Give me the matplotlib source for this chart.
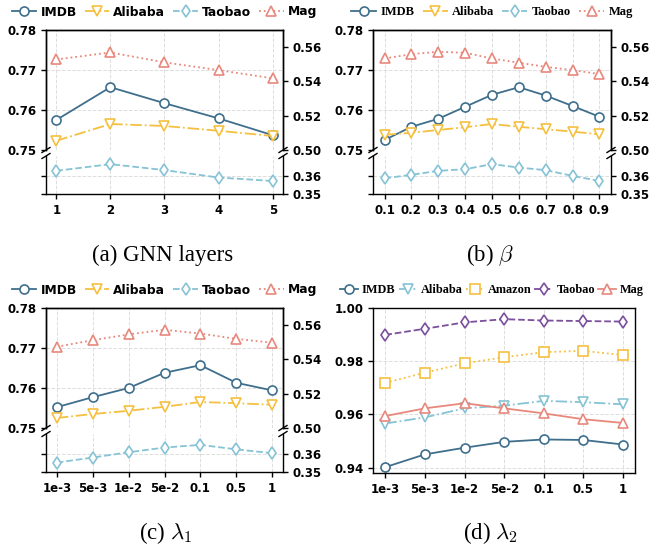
import matplotlib
matplotlib.use('Agg')
import matplotlib.pyplot as plt
from matplotlib.ticker import FormatStrFormatter

plt.rcParams['font.family'] = ['DejaVu Sans']
plt.rcParams['font.weight'] = 'bold'
plt.rcParams['mathtext.fontset'] = 'cm'

C_IMDB = '#3f6f8c'
C_ALI = '#f5c040'
C_TAO = '#86c3d5'
C_MAG = '#e8887c'
C_PUR = '#7b4f9d'

# (a) GNN layers
a_x = [1, 2, 3, 4, 5]
a_imdb = [0.7575, 0.7657, 0.7617, 0.7579, 0.7537]
a_ali = [0.7523, 0.7565, 0.7560, 0.7548, 0.7535]
a_tao = [0.3628, 0.3665, 0.3632, 0.3591, 0.3572]
a_mag = [0.5528, 0.5569, 0.5511, 0.5466, 0.5418]

# (b) beta
b_x = [0.1, 0.2, 0.3, 0.4, 0.5, 0.6, 0.7, 0.8, 0.9]
b_imdb = [0.7525, 0.7558, 0.7578, 0.7608, 0.7638, 0.7657, 0.7636, 0.7610, 0.7583]
b_ali = [0.7538, 0.7543, 0.7550, 0.7557, 0.7565, 0.7558, 0.7552, 0.7546, 0.7539]
b_tao = [0.3587, 0.3606, 0.3628, 0.3637, 0.3665, 0.3646, 0.3632, 0.3600, 0.3572]
b_mag = [0.5534, 0.5559, 0.5573, 0.5567, 0.5534, 0.5509, 0.5485, 0.5466, 0.5443]

# (c) lambda_1
lam_labels = ['1e-3', '5e-3', '1e-2', '5e-2', '0.1', '0.5', '1']
c_imdb = [0.7552, 0.7577, 0.7600, 0.7638, 0.7657, 0.7613, 0.7594]
c_ali = [0.7525, 0.7535, 0.7543, 0.7553, 0.7565, 0.7562, 0.7558]
c_tao = [0.3552, 0.3580, 0.3609, 0.3635, 0.3650, 0.3625, 0.3604]
c_mag = [0.5474, 0.5512, 0.5546, 0.5573, 0.5551, 0.5520, 0.5497]

# (d) lambda_2
d_imdb = [0.9402, 0.9450, 0.9475, 0.9497, 0.9506, 0.9504, 0.9487]
d_ali = [0.9566, 0.9589, 0.9623, 0.9633, 0.9651, 0.9646, 0.9638]
d_amazon = [0.9719, 0.9757, 0.9792, 0.9815, 0.9834, 0.9839, 0.9823]
d_tao = [0.9899, 0.9922, 0.9946, 0.9958, 0.9953, 0.9951, 0.9949]
d_mag = [0.9594, 0.9623, 0.9642, 0.9623, 0.9604, 0.9582, 0.9568]

W, H = 652, 548
fig = plt.figure(figsize=(W / 100, H / 100), dpi=100)

TICK = 8.5
MS = 6.5


def rect(x0, x1, y0, y1):
    # pixel box -> figure fraction
    return [x0 / W, 1 - y1 / H, (x1 - x0) / W, (y1 - y0) / H]


def style(ax):
    for s in ax.spines.values():
        s.set_linewidth(1.0)
    ax.tick_params(labelsize=TICK, length=3.5, width=1.0, direction='out')
    ax.grid(True, linestyle='--', color='#dddddd', linewidth=0.7)
    ax.set_axisbelow(True)


def mk(ax, x, y, color, marker, ls):
    ln, = ax.plot(x, y, color=color, marker=marker, ls=ls, lw=1.3,
                  markersize=MS, markerfacecolor='white', markeredgewidth=1.2)
    return ln


def broken(px, py, x, imdb, ali, tao, mag, xlim, xticks, xlabels, legsize, legfam):
    x0, x1 = px
    y0 = py
    top = fig.add_axes(rect(x0, x1, y0, y0 + 120))
    bot = fig.add_axes(rect(x0, x1, y0 + 126, y0 + 164), sharex=top)
    style(top)
    style(bot)
    top.spines['bottom'].set_visible(False)
    bot.spines['top'].set_visible(False)
    top.tick_params(bottom=False, labelbottom=False)

    l1 = mk(top, x, imdb, C_IMDB, 'o', '-')
    l2 = mk(top, x, ali, C_ALI, 'v', '-.')
    top.set_ylim(0.75, 0.78)
    top.set_yticks([0.75, 0.76, 0.77, 0.78])
    top.yaxis.set_major_formatter(FormatStrFormatter('%.2f'))

    tw = top.twinx()
    style(tw)
    tw.grid(False)
    tw.spines['bottom'].set_visible(False)
    l4 = mk(tw, x, mag, C_MAG, '^', ':')
    tw.set_ylim(0.50, 0.57)
    tw.set_yticks([0.50, 0.52, 0.54, 0.56])
    tw.yaxis.set_major_formatter(FormatStrFormatter('%.2f'))

    l3 = mk(bot, x, tao, C_TAO, 'd', '--')
    bot.set_ylim(0.35, 0.371)
    bot.set_yticks([0.35, 0.36])
    bot.yaxis.set_major_formatter(FormatStrFormatter('%.2f'))
    bot.tick_params(axis='y', left=True, labelleft=False, right=True, labelright=True)
    bot.set_xlim(*xlim)
    bot.set_xticks(xticks)
    bot.set_xticklabels(xlabels)

    # break marks
    dx = 4.0 / (x1 - x0)
    kw = dict(color='k', lw=1.0, clip_on=False)
    for xx in (0, 1):
        top.plot([xx - dx, xx + dx], [-2.5 / 120, 2.5 / 120], transform=top.transAxes, **kw)
        bot.plot([xx - dx, xx + dx], [1 - 2.5 / 38, 1 + 2.5 / 38], transform=bot.transAxes, **kw)

    fig.legend([l1, l2, l3, l4], ['IMDB', 'Alibaba', 'Taobao', 'Mag'],
               loc='center', bbox_to_anchor=((x0 + x1) / 2 / W, 1 - (y0 - 18) / H),
               ncol=4, frameon=False, handlelength=2.0, handletextpad=0.35,
               columnspacing=0.65, prop={'family': legfam, 'weight': 'bold', 'size': legsize})
    return top


broken((46, 283), 30, a_x, a_imdb, a_ali, a_tao, a_mag, (0.81, 5.19),
       a_x, [str(v) for v in a_x], 8.8, 'DejaVu Sans')
broken((373, 611), 30, b_x, b_imdb, b_ali, b_tao, b_mag, (0.057, 0.943),
       b_x, ['%.1f' % v for v in b_x], 9, 'Liberation Serif')
cx = list(range(len(lam_labels)))
broken((46, 283), 308, cx, c_imdb, c_ali, c_tao, c_mag, (-0.3, 6.3),
       cx, lam_labels, 8.8, 'DejaVu Sans')

# (d)
ax = fig.add_axes(rect(373, 635, 308, 473))
style(ax)
h1 = mk(ax, cx, d_imdb, C_IMDB, 'o', '-')
h2 = mk(ax, cx, d_ali, C_TAO, 'v', '-.')
h3 = mk(ax, cx, d_amazon, C_ALI, 's', ':')
h4 = mk(ax, cx, d_tao, C_PUR, 'd', '--')
h5 = mk(ax, cx, d_mag, C_MAG, '^', '-')
ax.set_ylim(0.938, 1.0)
ax.set_yticks([0.94, 0.96, 0.98, 1.00])
ax.yaxis.set_major_formatter(FormatStrFormatter('%.2f'))
ax.set_xlim(-0.31, 6.3)
ax.set_xticks(cx)
ax.set_xticklabels(lam_labels)
fig.legend([h1, h2, h3, h4, h5], ['IMDB', 'Alibaba', 'Amazon', 'Taobao', 'Mag'],
           loc='center', bbox_to_anchor=(492 / W, 1 - 290 / H), ncol=5, frameon=False,
           handlelength=1.5, handletextpad=0.3, columnspacing=0.25,
           prop={'family': 'Liberation Serif', 'weight': 'bold', 'size': 8.8})

cap = dict(ha='center', va='center', fontsize=16.5, family='Liberation Serif', weight='normal')
fig.text(163 / W, 1 - 255 / H, '(a) GNN layers', **cap)
fig.text(490 / W, 1 - 255 / H, r'(b) $\beta$', **cap)
fig.text(166 / W, 1 - 533 / H, r'(c) $\lambda_1$', **cap)
fig.text(490 / W, 1 - 533 / H, r'(d) $\lambda_2$', **cap)

fig.savefig('out.png', dpi=100)
